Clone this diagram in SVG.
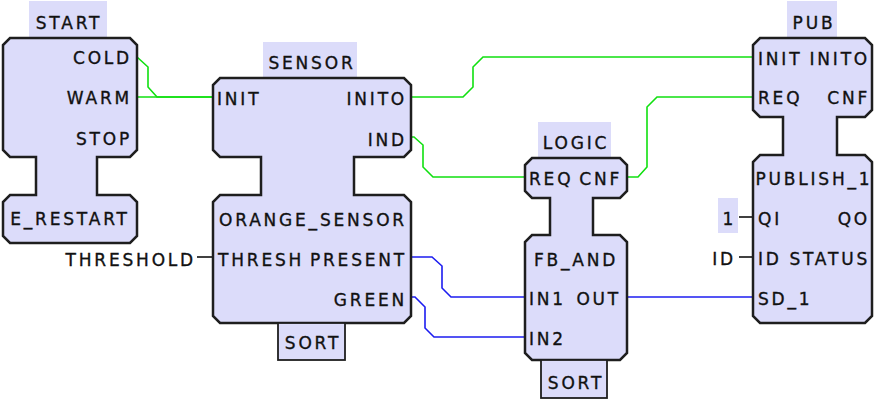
<svg xmlns="http://www.w3.org/2000/svg" width="874" height="401" viewBox="0 0 874 401">
<style>
text{font-family:"DejaVu Sans",sans-serif;font-size:17px;letter-spacing:2.8px;fill:#111;stroke:#111;stroke-width:0.35}
.e{text-anchor:end}
.m{text-anchor:middle}
.blk{fill:#dcdcfa;stroke:#1e1e1e;stroke-width:2.5;stroke-linejoin:miter}
.lbl{fill:#dcdcfa}
.sort{fill:#dcdcfa;stroke:#1e1e1e;stroke-width:1.8}
.g{fill:none;stroke:#10e010;stroke-width:1.6}
.b{fill:none;stroke:#1c1cf0;stroke-width:1.6}
.k{fill:none;stroke:#111;stroke-width:1.6}
</style>
<g id="connectors">
<polyline class="g" points="137,57 148,67 148,87 157,97 213,97"/>
<polyline class="g" points="137,97 213,97"/>
<polyline class="g" points="411,97 463,97 473,87 473,67 483,57 753,57"/>
<polyline class="g" points="411,137 414,137 423,145 423,167 433,177 525,177"/>
<polyline class="g" points="627,177 638,177 647,167 647,107 657,97 753,97"/>
<polyline class="b" points="411,257 432,257 442,266 442,288 451,297 525,297"/>
<polyline class="b" points="411,297 415,297 425,307 425,328 434,337 525,337"/>
<polyline class="b" points="627,297 753,297"/>
<polyline class="k" points="197,257 213,257"/>
<polyline class="k" points="739,217 753,217"/>
<polyline class="k" points="739,257 753,257"/>
</g>
<g id="START">
<rect class="lbl" x="29" y="1" width="78" height="37"/>
<text class="m" x="69" y="29">START</text>
<path class="blk" d="M10,38 H130 L137,45 V150 L130,157 H97 V195 H130 L137,202 V236 L130,243 H10 L3,236 V202 L10,195 H36 V157 H10 L3,150 V45 Z"/>
<text class="e" x="132" y="64">COLD</text>
<text class="e" x="132" y="104">WARM</text>
<text class="e" x="132" y="145">STOP</text>
<text class="m" x="70" y="225">E_RESTART</text>
</g>
<g id="SENSOR">
<rect class="lbl" x="263" y="42" width="94" height="36"/>
<text class="m" x="312" y="69">SENSOR</text>
<path class="blk" d="M220,78 H404 L411,85 V150 L404,157 H354 V195 H404 L411,202 V316 L404,323 H220 L213,316 V202 L220,195 H261 V157 H220 L213,150 V85 Z"/>
<rect class="sort" x="278" y="323" width="67" height="37"/>
<text class="m" x="313" y="349">SORT</text>
<text x="217" y="105">INIT</text>
<text class="e" x="407" y="105">INITO</text>
<text class="e" x="407" y="146">IND</text>
<text class="m" x="313" y="226">ORANGE_SENSOR</text>
<text x="218" y="266">THRESH</text>
<text class="e" x="407" y="266">PRESENT</text>
<text class="e" x="407" y="306">GREEN</text>
<text class="e" x="196" y="266">THRESHOLD</text>
</g>
<g id="LOGIC">
<rect class="lbl" x="538" y="122" width="73" height="36"/>
<text class="m" x="576" y="149">LOGIC</text>
<path class="blk" d="M532,158 H620 L627,165 V191 L620,198 H593 V235 H620 L627,242 V353 L620,360 H532 L525,353 V242 L532,235 H550 V198 H532 L525,191 V165 Z"/>
<rect class="sort" x="541" y="360" width="66" height="38"/>
<text class="m" x="576" y="389">SORT</text>
<text x="529" y="185">REQ</text>
<text class="e" x="622" y="185">CNF</text>
<text class="m" x="576" y="266">FB_AND</text>
<text x="529" y="305">IN1</text>
<text class="e" x="621" y="305">OUT</text>
<text x="529" y="345">IN2</text>
</g>
<g id="PUB">
<rect class="lbl" x="787" y="1" width="50" height="37"/>
<text class="m" x="814" y="29">PUB</text>
<path class="blk" d="M760,38 H865 L872,45 V110 L865,117 H837 V155 H865 L872,162 V316 L865,323 H760 L753,316 V162 L760,155 H783 V117 H760 L753,110 V45 Z"/>
<text x="758" y="65">INIT</text>
<text class="e" x="870" y="65">INITO</text>
<text x="758" y="104">REQ</text>
<text class="e" x="870" y="104">CNF</text>
<text class="m" x="814" y="185">PUBLISH_1</text>
<text x="758" y="225">QI</text>
<text class="e" x="870" y="225">QO</text>
<text x="758" y="265">ID</text>
<text class="e" x="870" y="265">STATUS</text>
<text x="758" y="305">SD_1</text>
<rect class="lbl" x="718" y="198" width="20" height="35"/>
<text class="e" x="736" y="225">1</text>
<text class="e" x="736" y="265">ID</text>
</g>
</svg>
